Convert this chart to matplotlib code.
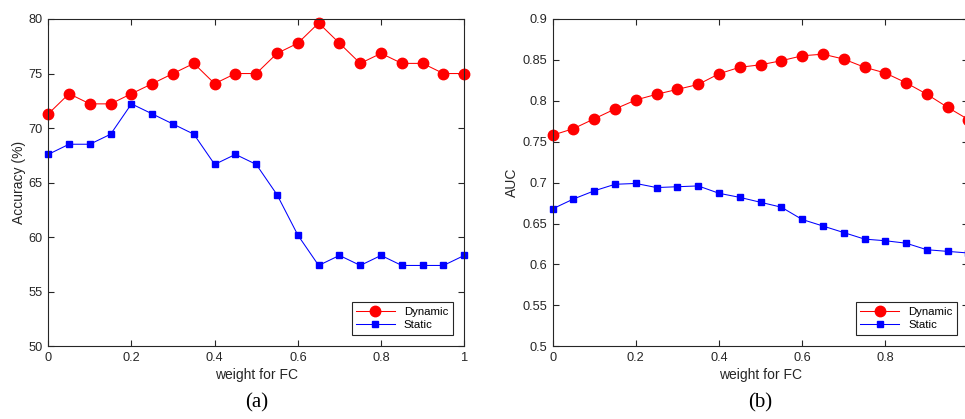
import numpy as np
import matplotlib
matplotlib.use("Agg")
import matplotlib.pyplot as plt

plt.rcParams['font.family'] = ['Liberation Sans', 'DejaVu Sans']

# weight for FC
w = [0, 0.05, 0.1, 0.15, 0.2, 0.25, 0.3, 0.35, 0.4, 0.45, 0.5,
     0.55, 0.6, 0.65, 0.7, 0.75, 0.8, 0.85, 0.9, 0.95, 1.0]

# (a) accuracy
acc_dynamic = [71.30, 73.15, 72.22, 72.22, 73.15, 74.07, 75.00, 75.93, 74.07, 75.00, 75.00,
               76.85, 77.78, 79.63, 77.78, 75.93, 76.85, 75.93, 75.93, 75.00, 75.00]
acc_static = [67.59, 68.52, 68.52, 69.44, 72.22, 71.30, 70.37, 69.44, 66.67, 67.59, 66.67,
              63.89, 60.19, 57.41, 58.33, 57.41, 58.33, 57.41, 57.41, 57.41, 58.33]

# (b) AUC
auc_dynamic = [0.758, 0.766, 0.778, 0.790, 0.801, 0.808, 0.814, 0.820, 0.833, 0.841, 0.844,
               0.849, 0.855, 0.857, 0.851, 0.841, 0.834, 0.822, 0.808, 0.792, 0.777]
auc_static = [0.668, 0.680, 0.690, 0.698, 0.699, 0.694, 0.695, 0.696, 0.687, 0.682, 0.676,
              0.670, 0.655, 0.647, 0.639, 0.631, 0.629, 0.626, 0.618, 0.616, 0.614]

acc_ticks = [50, 55, 60, 65, 70, 75, 80]
auc_ticks = [0.5, 0.55, 0.6, 0.65, 0.7, 0.75, 0.8, 0.85, 0.9]
x_ticks = [0, 0.2, 0.4, 0.6, 0.8, 1]

dark = '#262626'


def style(ax, xlabels):
    for s in ax.spines.values():
        s.set_color(dark)
        s.set_linewidth(0.8)
    ax.tick_params(direction='in', top=True, right=True, length=4, width=0.8,
                   colors=dark, labelsize=9.2, pad=4)
    ax.set_xlim(0, 1)
    ax.set_xticks(x_ticks)
    ax.set_xticklabels(xlabels)
    ax.set_xlabel('weight for FC', fontsize=10, color=dark, labelpad=3)


def series(ax, yd, ys):
    ax.plot(w, yd, '-o', color='#ff0000', lw=0.75, markersize=7.5, label='Dynamic', clip_on=False)
    ax.plot(w, ys, '-s', color='#0000ff', lw=0.75, markersize=5, label='Static', clip_on=False)
    leg = ax.legend(loc='lower right', fontsize=8.2, handlelength=3.4, fancybox=False,
                    framealpha=1, borderaxespad=1.0, labelspacing=0.3, borderpad=0.4)
    leg.get_frame().set_edgecolor(dark)
    leg.get_frame().set_linewidth(0.8)


fig = plt.figure(figsize=(9.65, 4.19), dpi=100)

ax1 = fig.add_axes([0.0500, 0.1735, 0.4311, 0.7812])
series(ax1, acc_dynamic, acc_static)
style(ax1, ['0', '0.2', '0.4', '0.6', '0.8', '1'])
ax1.set_ylim(50, 80)
ax1.set_yticks(acc_ticks)
ax1.set_ylabel('Accuracy (%)', fontsize=10, color=dark, labelpad=2)
fig.text(0.2655, 0.027, '(a)', family=['Liberation Serif'], fontsize=15, ha='center')

# right panel runs past the right edge of the figure, as in the source image
ax2 = fig.add_axes([0.5727, 0.1735, 0.4309, 0.7812])
series(ax2, auc_dynamic, auc_static)
style(ax2, ['0', '0.2', '0.4', '0.6', '0.8', ''])
ax2.set_ylim(0.5, 0.9)
ax2.set_yticks(auc_ticks)
ax2.set_yticklabels([('%g' % t) for t in auc_ticks])
ax2.set_ylabel('AUC', fontsize=10, color=dark, labelpad=2)
fig.text(0.7882, 0.027, '(b)', family=['Liberation Serif'], fontsize=15, ha='center')

fig.savefig('out.png', dpi=100)
